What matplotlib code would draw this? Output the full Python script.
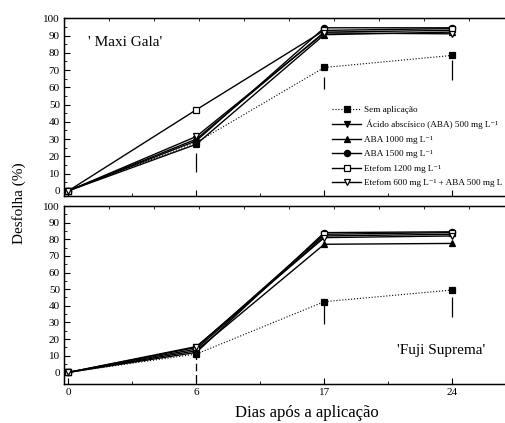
import matplotlib
matplotlib.use('Agg')
import matplotlib.pyplot as plt
import numpy as np

plt.rcParams['font.family'] = ['Liberation Serif', 'DejaVu Serif']

# x categories (days after application)
days = ['0', '6', '17', '24']
pos = [0, 1, 2, 3]

# 'Maxi Gala' defoliation (%)
maxi_sem = [0, 28, 71.5, 78.5]
maxi_aba500 = [0, 30, 92, 93]
maxi_aba1000 = [0, 27, 90.5, 92]
maxi_aba1500 = [0, 29, 94.5, 94.5]
maxi_etef1200 = [0, 47, 93, 94]
maxi_etef_aba = [0, 31.5, 91.5, 91]

# 'Fuji Suprema' defoliation (%)
fuji_sem = [0, 11, 42.5, 49.5]
fuji_aba500 = [0, 14, 82, 83]
fuji_aba1000 = [0, 13, 77, 77.5]
fuji_aba1500 = [0, 12, 84, 84.5]
fuji_etef1200 = [0, 15, 83, 84]
fuji_etef_aba = [0, 15.5, 81, 82]

# DMS bars (x position, top, bottom)
maxi_bar_x = [1, 2, 3]
maxi_bar_top = [22, 66, 76]
maxi_bar_bot = [11, 59, 64]
fuji_bar_x = [1, 2, 3]
fuji_bar_top = [12, 40.5, 45.5]
fuji_bar_bot = [-6, 29, 33.5]

labels = ['Sem aplicação',
          ' Ácido abscísico (ABA) 500 mg L⁻¹',
          'ABA 1000 mg L⁻¹',
          'ABA 1500 mg L⁻¹',
          'Etefom 1200 mg L⁻¹',
          'Etefom 600 mg L⁻¹ + ABA 500 mg L']

styles = [
    dict(ls=':', lw=0.8, marker='s', mfc='black'),
    dict(ls='-', lw=1.0, marker='v', mfc='black'),
    dict(ls='-', lw=1.0, marker='^', mfc='black'),
    dict(ls='-', lw=1.0, marker='o', mfc='black'),
    dict(ls='-', lw=1.0, marker='s', mfc='white'),
    dict(ls='-', lw=1.0, marker='v', mfc='white'),
]

W, H = 505, 423
fig = plt.figure(figsize=(W / 100, H / 100), dpi=100)

x0 = 64 / W
ax1 = fig.add_axes([x0, 1 - 196 / H, 1.0 - x0 + 0.002, (196 - 18.3) / H])
ax2 = fig.add_axes([x0, 1 - 384 / H, 1.0 - x0 + 0.002, (384 - 206) / H])

xlim = (-0.034, 3.42)


def style_axis(ax, ylim, show_labels):
    ax.set_xlim(*xlim)
    ax.set_ylim(*ylim)
    ax.spines['right'].set_visible(False)
    ax.set_yticks(np.arange(0, 101, 10))
    ax.set_yticks(np.arange(5, 100, 10), minor=True)
    ax.set_xticks(pos)
    ax.set_xticks([0.5, 1.5, 2.5], minor=True)
    if show_labels:
        ax.set_xticklabels(days)
    else:
        ax.set_xticklabels([])
    ax.tick_params(which='major', direction='in', length=4, width=0.8, labelsize=8,
                   top=False, right=False, pad=3)
    ax.tick_params(which='minor', direction='in', length=2, width=0.6, top=False, right=False)
    for s in ['left', 'top', 'bottom']:
        ax.spines[s].set_linewidth(1.0)
    tw = ax.twiny()
    tw.set_xlim(*xlim)
    tw.set_xticks(np.arange(xlim[0] + 0.3516, xlim[1], 0.3516))
    tw.set_xticklabels([])
    tw.tick_params(direction='in', length=2, width=0.6)
    tw.spines['right'].set_visible(False)
    tw.patch.set_visible(False)


series_maxi = [maxi_sem, maxi_aba500, maxi_aba1000, maxi_aba1500, maxi_etef1200, maxi_etef_aba]
series_fuji = [fuji_sem, fuji_aba500, fuji_aba1000, fuji_aba1500, fuji_etef1200, fuji_etef_aba]

handles = []
for vals, st, lab in zip(series_maxi, styles, labels):
    h, = ax1.plot(pos, vals, color='black', ls=st['ls'], lw=st['lw'], marker=st['marker'],
                  mfc=st['mfc'], mec='black', mew=0.9, ms=4.5, label=lab, clip_on=False, zorder=3)
    handles.append(h)
for vals, st in zip(series_fuji, styles):
    ax2.plot(pos, vals, color='black', ls=st['ls'], lw=st['lw'], marker=st['marker'],
             mfc=st['mfc'], mec='black', mew=0.9, ms=4.5, clip_on=False, zorder=3)

ax1.vlines(maxi_bar_x, maxi_bar_bot, maxi_bar_top, color='black', lw=0.9)
ax2.vlines(fuji_bar_x[1:], fuji_bar_bot[1:], fuji_bar_top[1:], color='black', lw=0.9)
ax2.vlines(fuji_bar_x[:1], fuji_bar_bot[:1], fuji_bar_top[:1], color='black', lw=0.9,
           linestyles=(0, (6, 3)))

style_axis(ax1, (-3, 100), False)
style_axis(ax2, (-7, 100), True)

ax1.text(88 / W, 1 - 43 / H, "' Maxi Gala'", transform=fig.transFigure, fontsize=11,
         ha='left', va='center')
ax2.text(397 / W, 1 - 350.7 / H, "'Fuji Suprema'", transform=fig.transFigure, fontsize=11,
         ha='left', va='center')

leg = ax1.legend(handles=handles, loc='upper left', bbox_to_anchor=(332 / W, 1 - 105.5 / H),
                 bbox_transform=fig.transFigure, frameon=False, fontsize=6.6,
                 handlelength=3.2, handletextpad=0.3, labelspacing=0.66,
                 borderpad=0, borderaxespad=0)

fig.text(19 / W, 1 - 203 / H, 'Desfolha (%)', rotation=90, fontsize=11, ha='center', va='center')
fig.text(307 / W, 1 - 413 / H, 'Dias após a aplicação', fontsize=12, ha='center', va='center')

fig.savefig('out.png', dpi=100)
